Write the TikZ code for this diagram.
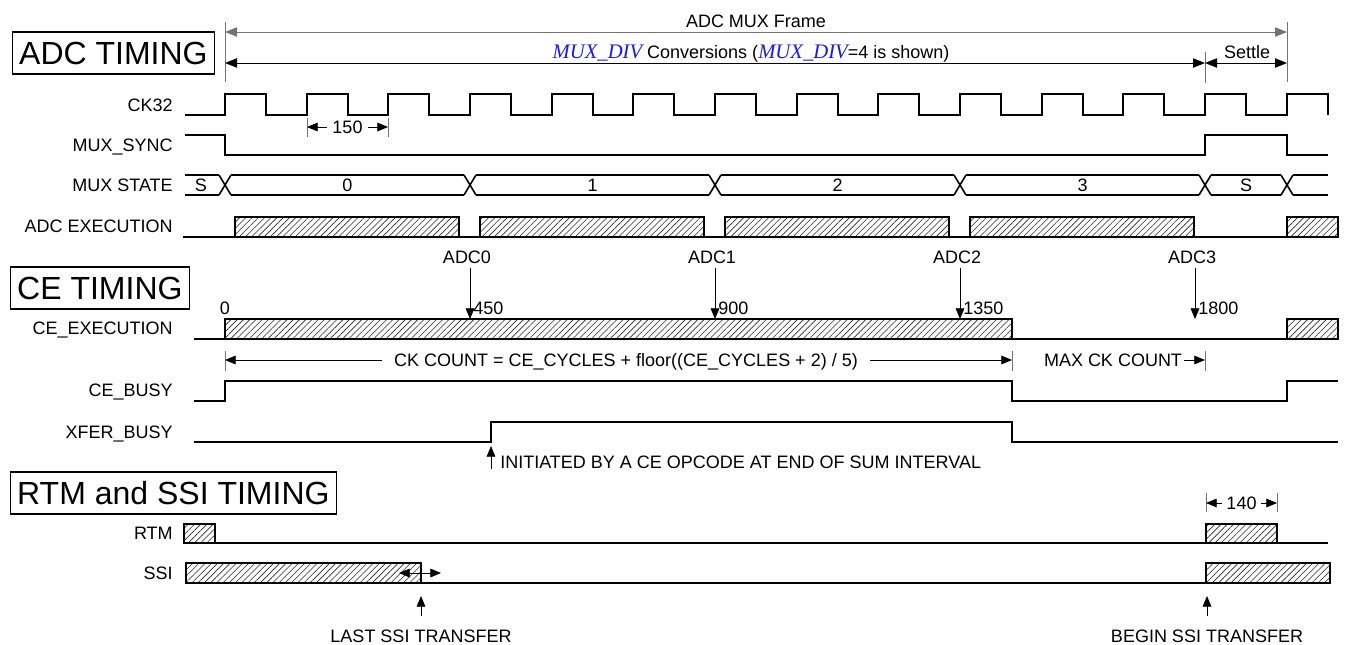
\documentclass[tikz,border=0pt]{standalone}
\usepackage{fontspec}
\setmainfont{Liberation Sans}
\newfontfamily\serifit{Liberation Serif}
\usepackage{tikz}
\usetikzlibrary{arrows.meta, patterns.meta}
\definecolor{divblue}{RGB}{25,25,235}
\definecolor{guidegray}{RGB}{115,115,115}
\newcommand{\muxdiv}{{\serifit\itshape\fontsize{15.5}{17}\selectfont\color{divblue}MUX\_DIV}}

\begin{document}
\begin{tikzpicture}[x=0.75pt, y=-0.75pt,
    sig/.style={line width=1.5pt},
    hatch/.style={line width=1.5pt, pattern={Lines[angle=45, distance=3.3pt, line width=0.45pt]}, pattern color=black!85},
    lbl/.style={font=\fontsize{13.5}{16}\selectfont, text height=9.7pt, text depth=0pt, inner sep=0pt},
    sname/.style={lbl, anchor=east},
    title/.style={draw, line width=0.8pt, anchor=west, font=\fontsize{24}{28}\selectfont,
                  text height=17.2pt, text depth=0pt, inner ysep=7.15pt, inner xsep=5pt},
    tick/.style={line width=0.7pt, guidegray},
    arr/.style={line width=0.6pt, -{Triangle[length=8pt, width=6.5pt]}},
    span/.style={line width=0.7pt, {Triangle[length=9pt, width=7pt]}-{Triangle[length=9pt, width=7pt]}}]
  \useasboundingbox (0,0) rectangle (1346,644);

  \node[title] (adct) at (12,53) {ADC TIMING};
  \node[title] (cet) at (10,288) {CE TIMING};
  \node[title] (rtmt) at (10,493) {RTM and SSI TIMING};

  \node[sname] (ck) at (173,105) {CK32};
  \node[sname] (sync) at (173,145) {MUX\_SYNC};
  \node[sname] (state) at (173,185) {MUX STATE};
  \node[sname] (adcx) at (173,226) {ADC EXECUTION};
  \node[sname] (cex) at (173,328) {CE\_EXECUTION};
  \node[sname] (ceb) at (173,390) {CE\_BUSY};
  \node[sname] (xfer) at (173,432) {XFER\_BUSY};
  \node[sname] (rtm) at (173,533) {RTM};
  \node[sname] (ssi) at (173,573) {SSI};

  % frame and conversion spans
  \draw[tick] (225,22) -- (225,82);
  \draw[tick] (1287,22) -- (1287,82);
  \draw[tick] (1205,52) -- (1205,83);
  \coordinate (frameL) at (225,32);
  \coordinate (frameR) at (1287,32);
  \coordinate (convL) at (225,63);
  \coordinate (convR) at (1205,63);
  \draw[span, guidegray] (frameL) -- (frameR);
  \draw[span] (convL) -- (convR);
  \draw[span] (convR) -- (convR -| frameR);
  \node[lbl, anchor=south] (frame) at (756,28) {ADC MUX Frame};
  \node[lbl, anchor=south] (conv) at (751,59) {\muxdiv{} Conversions (\muxdiv=4 is shown)};
  \node[lbl, anchor=south] (settle) at (1247,59) {Settle};

  % CK32
  \draw[sig] (185,115) \foreach \k in {0,...,13} { -- ({225+81.67*\k},115) -- ++(0,-21) -- ++(41,0) -- ++(0,21) };
  \draw[tick] (307,118) -- (307,137);
  \draw[tick] (388,118) -- (388,137);
  \node[lbl, inner xsep=4pt] (p150) at (347.5,127) {150};
  \draw[arr] (p150.west) -- (307,127);
  \draw[arr] (p150.east) -- (388,127);

  % MUX_SYNC
  \draw[sig] (185,135) -- (225,135) -- (225,155) -- (1205,155) -- (1205,135) -- (1287,135) -- (1287,155) -- (1328,155);

  % MUX STATE
  \foreach \a/\b in {185/219, 231/464, 476/709, 721/954, 966/1199, 1211/1281, 1293/1328} {
    \draw[sig] (\a,175) -- (\b,175);
    \draw[sig] (\a,195) -- (\b,195);
  }
  \foreach \t in {225,470,715,960,1205,1287}
    \draw[line width=1.2pt] ({\t-6},175) -- ({\t+6},195) ({\t-6},195) -- ({\t+6},175);
  \node[lbl] (s0) at (201,185) {S};
  \node[lbl] (s1) at (347.5,185) {0};
  \node[lbl] (s2) at (592.5,185) {1};
  \node[lbl] (s3) at (837.5,185) {2};
  \node[lbl] (s4) at (1082.5,185) {3};
  \node[lbl] (s5) at (1246,185) {S};

  % ADC EXECUTION
  \draw[sig] (183,237) -- (1338,237);
  \foreach \k in {0,...,3}
    \draw[hatch] ({235+245*\k},217) rectangle ({459+245*\k},237);
  \draw[hatch] (1287,217) rectangle (1338,237);

  % ADC sample points
  \foreach \n/\x/\v in {0/470/450, 1/715/900, 2/960/1350, 3/1195/1800} {
    \node[lbl] (adc\n) at ({\x-3},257) {ADC\n};
    \coordinate (hit\n) at (\x,319);
    \draw[arr] (\x,268) -- (hit\n);
    \node[lbl, anchor=west] (cnt\n) at ({\x+3},308) {\v};
  }
  \node[lbl] (cnt) at (225,308) {0};

  % CE_EXECUTION
  \draw[sig] (194,339) -- (1338,339);
  \draw[hatch] (225,319) rectangle (1012,339);
  \draw[hatch] (1287,319) rectangle (1338,339);

  % CK COUNT
  \draw[tick] (225,351) -- (225,371);
  \draw[tick] (1012,351) -- (1012,371);
  \draw[tick] (1205,351) -- (1205,371);
  \node[lbl, inner xsep=9pt] (ckc) at (626,360) {CK COUNT = CE\_CYCLES + floor((CE\_CYCLES + 2) / 5)};
  \draw[arr] (ckc.west) -- (225,360);
  \draw[arr] (ckc.east) -- (1012,360);
  \node[lbl, inner xsep=1pt] (maxc) at (1113,360) {MAX CK COUNT};
  \draw[arr] (maxc.east) -- (1205,360);

  % CE_BUSY and XFER_BUSY
  \draw[sig] (194,401) -- (225,401) -- (225,381) -- (1012,381) -- (1012,401) -- (1287,401) -- (1287,381) -- (1338,381);
  \draw[sig] (194,442) -- (491,442) -- (491,422) -- (1012,422) -- (1012,442) -- (1338,442);
  \node[lbl, anchor=west] (init) at (500,462) {INITIATED BY A CE OPCODE AT END OF SUM INTERVAL};
  \coordinate (xup) at (491,446);
  \draw[arr] (491,469) -- (xup);

  % RTM
  \draw[sig] (184,543) -- (1328,543);
  \draw[hatch] (184,524) rectangle (215,543);
  \draw[hatch] (1206,524) rectangle (1277,543);
  \draw[tick] (1206,493) -- (1206,512);
  \draw[tick] (1277,493) -- (1277,512);
  \node[lbl, inner xsep=3pt] (p140) at (1241.5,503) {140};
  \draw[arr] (p140.west) -- (1206,503);
  \draw[arr] (p140.east) -- (1277,503);

  % SSI
  \draw[sig] (421,583) -- (1206,583);
  \draw[hatch] (186,563) rectangle (421,583);
  \draw[hatch] (1206,563) rectangle (1330,583);
  \coordinate (jitL) at (399,573);
  \coordinate (jitR) at (441,573);
  \draw[arr, {Triangle[length=8pt, width=6.5pt]}-{Triangle[length=8pt, width=6.5pt]}] (jitL) -- (jitR);
  \node[lbl] (last) at (421,636) {LAST SSI TRANSFER};
  \node[lbl] (begin) at (1207,636) {BEGIN SSI TRANSFER};
  \draw[arr] (421,616) -- (421,596);
  \draw[arr] (1207,616) -- (1207,596);
\end{tikzpicture}
\end{document}
